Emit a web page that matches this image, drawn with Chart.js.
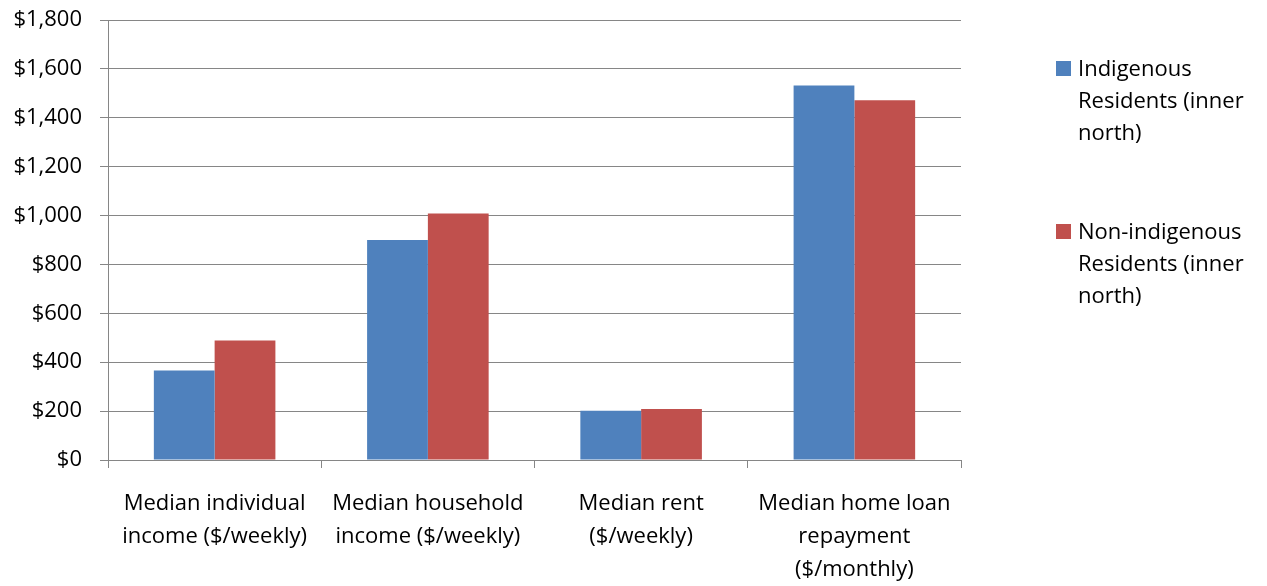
<!DOCTYPE html>
<html>
<head>
<meta charset="utf-8">
<script src="https://cdn.jsdelivr.net/npm/chart.js@4"></script>
<style>
  html, body { margin: 0; padding: 0; background: #fff; }
  #wrap { position: relative; width: 1267px; height: 586px; }
  #legend { position: absolute; left: 1056px; top: 51px; font-family: "Open Sans", sans-serif; font-size: 22px; color: #000; }
  .item { position: relative; padding-left: 22px; line-height: 32px; width: 180px; }
  .item + .item { margin-top: 67px; }
  .swatch { position: absolute; left: 0; top: 10px; width: 15px; height: 15px; }
</style>
</head>
<body>
<div id="wrap">
  <canvas id="chart" width="1267" height="586"></canvas>
  <div id="legend"></div>
</div>
<script>
const categories = [
  ["Median individual", "income ($/weekly)"],
  ["Median household", "income ($/weekly)"],
  ["Median rent", "($/weekly)"],
  ["Median home loan", "repayment", "($/monthly)"]
];
const seriesNames = ["Indigenous Residents (inner north)", "Non-indigenous Residents (inner north)"];
const indigenousValues = [366, 900, 201, 1532];
const nonIndigenousValues = [489, 1008, 209, 1472];
const seriesColors = ["#4F81BD", "#C0504D"];

const FONT = "'Open Sans', sans-serif";
const GRID = "#868686";

const legendElement = document.getElementById("legend");
seriesNames.forEach((name, i) => {
  const item = document.createElement("div");
  item.className = "item";
  item.innerHTML = `<span class="swatch" style="background:${seriesColors[i]}"></span>${name}`;
  legendElement.appendChild(item);
});

new Chart(document.getElementById("chart"), {
  type: "bar",
  data: {
    labels: categories,
    datasets: [
      { label: seriesNames[0], data: indigenousValues, backgroundColor: seriesColors[0] },
      { label: seriesNames[1], data: nonIndigenousValues, backgroundColor: seriesColors[1] }
    ]
  },
  options: {
    responsive: false,
    animation: false,
    layout: { padding: { top: 20, right: 306, left: 0, bottom: 0 } },
    plugins: { legend: { display: false }, tooltip: { enabled: false } },
    datasets: { bar: { categoryPercentage: 0.57, barPercentage: 1 } },
    scales: {
      x: {
        afterFit(scale) { scale.height = 126; scale.paddingLeft = 0; scale.paddingRight = 0; },
        grid: { drawOnChartArea: false, offset: true, color: GRID, tickLength: 8 },
        border: { color: GRID },
        ticks: {
          color: "#000",
          font: { family: FONT, size: 22, lineHeight: 1.5 },
          maxRotation: 0,
          autoSkip: false,
          padding: 19
        }
      },
      y: {
        min: 0,
        max: 1800,
        afterFit(scale) { scale.width = 108; scale.paddingTop = 0; scale.paddingBottom = 0; },
        grid: { color: GRID, tickLength: 8 },
        border: { color: GRID },
        ticks: {
          stepSize: 200,
          color: "#000",
          padding: 18,
          font: { family: FONT, size: 22 },
          callback(value) { return "$" + value.toLocaleString("en-US"); }
        }
      }
    }
  }
});
</script>
</body>
</html>
